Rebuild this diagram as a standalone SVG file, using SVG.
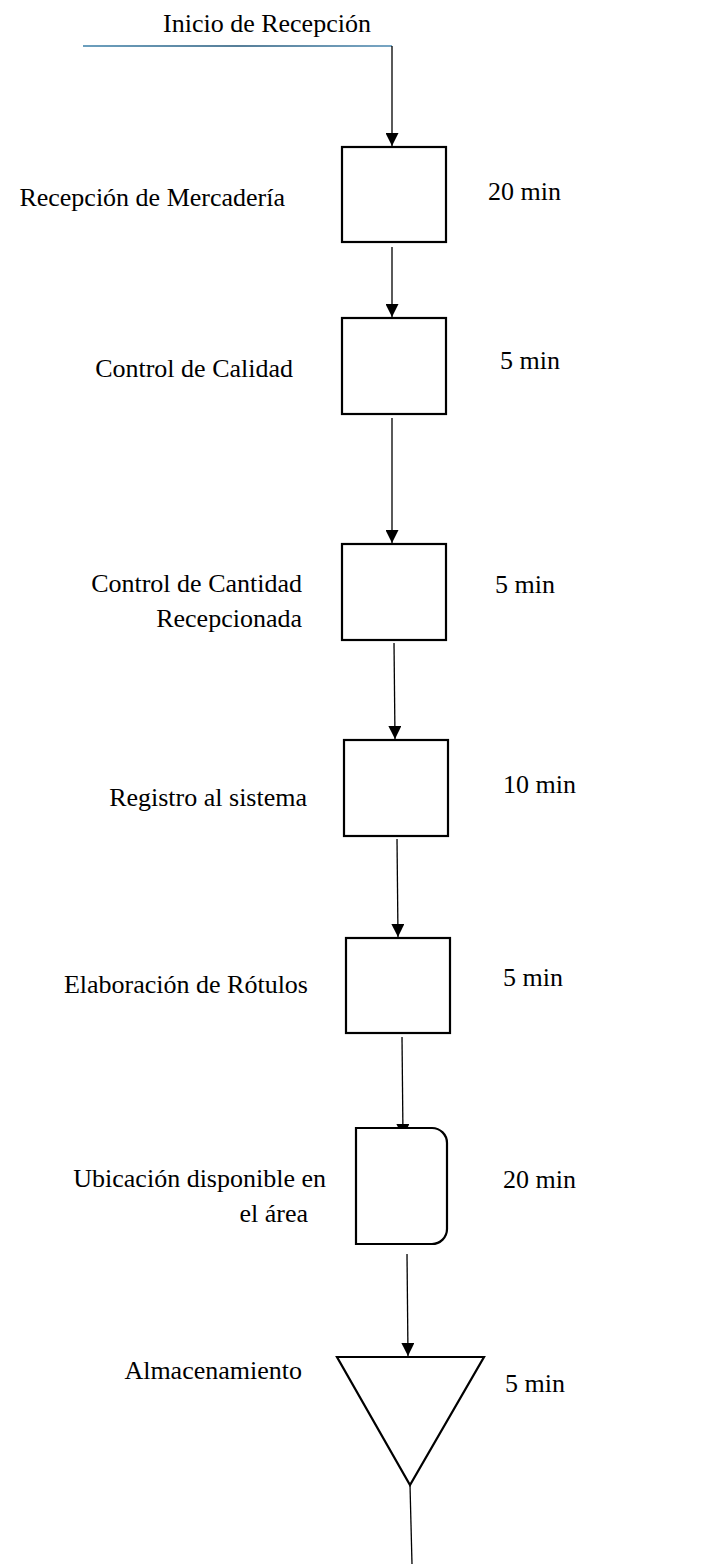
<svg xmlns="http://www.w3.org/2000/svg" width="711" height="1564" viewBox="0 0 711 1564">
<style>
text{font-family:'Liberation Serif','Times New Roman',Times,serif;font-size:26px;fill:#000}
.n{fill:#fff;stroke:#000;stroke-width:2.2}
.c{stroke:#000;stroke-width:1.3;fill:none}
</style>
<defs>
<marker id="ah" viewBox="0 0 10 10" refX="10" refY="5" markerWidth="14" markerHeight="13" markerUnits="userSpaceOnUse" orient="auto"><path d="M0,0 L10,5 L0,10 z" fill="#000"/></marker>
<linearGradient id="bl" gradientUnits="userSpaceOnUse" x1="83" y1="46" x2="392" y2="46"><stop offset="0" stop-color="#3a7fa8"/><stop offset="0.5" stop-color="#1e5477"/><stop offset="1" stop-color="#4a88b0"/></linearGradient>
</defs>
<rect width="711" height="1564" fill="#fff"/>
<text x="163" y="32">Inicio de Recepción</text>
<g id="connectors">
<line x1="83" y1="46" x2="392" y2="46" stroke="url(#bl)" stroke-width="1.5"/>
<line class="c" x1="392" y1="46" x2="392" y2="146" marker-end="url(#ah)"/>
<line class="c" x1="392" y1="247" x2="392" y2="317" marker-end="url(#ah)"/>
<line class="c" x1="392" y1="418" x2="392" y2="543" marker-end="url(#ah)"/>
<line class="c" x1="394" y1="643" x2="395" y2="739" marker-end="url(#ah)"/>
<line class="c" x1="397" y1="839" x2="398" y2="937" marker-end="url(#ah)"/>
<line class="c" x1="402" y1="1037" x2="403" y2="1137" marker-end="url(#ah)"/>
<line class="c" x1="407" y1="1254" x2="408" y2="1356" marker-end="url(#ah)"/>
<line class="c" x1="410" y1="1485" x2="412" y2="1564"/>
</g>
<g id="n1"><rect class="n" x="342" y="147" width="104" height="95"/><text x="285" y="206" text-anchor="end">Recepción de Mercadería</text><text x="488" y="200">20 min</text></g>
<g id="n2"><rect class="n" x="342" y="318" width="104" height="96"/><text x="293" y="377" text-anchor="end">Control de Calidad</text><text x="500" y="369">5 min</text></g>
<g id="n3"><rect class="n" x="342" y="544" width="104" height="96"/><text x="302" y="592" text-anchor="end">Control de Cantidad</text><text x="302" y="627" text-anchor="end">Recepcionada</text><text x="495" y="593">5 min</text></g>
<g id="n4"><rect class="n" x="344" y="740" width="104" height="96"/><text x="307" y="806" text-anchor="end">Registro al sistema</text><text x="503" y="793">10 min</text></g>
<g id="n5"><rect class="n" x="346" y="938" width="104" height="95"/><text x="308" y="993" text-anchor="end">Elaboración de Rótulos</text><text x="503" y="986">5 min</text></g>
<g id="n6"><path class="n" d="M356,1128 H432 A15,15 0 0 1 447,1143 V1229 A15,15 0 0 1 432,1244 H356 Z"/><text x="326" y="1187" text-anchor="end">Ubicación disponible en</text><text x="308" y="1222" text-anchor="end">el área</text><text x="503" y="1188">20 min</text></g>
<g id="n7"><path class="n" d="M337,1357 H484 L410,1485 Z"/><text x="302" y="1379" text-anchor="end">Almacenamiento</text><text x="505" y="1392">5 min</text></g>
</svg>
